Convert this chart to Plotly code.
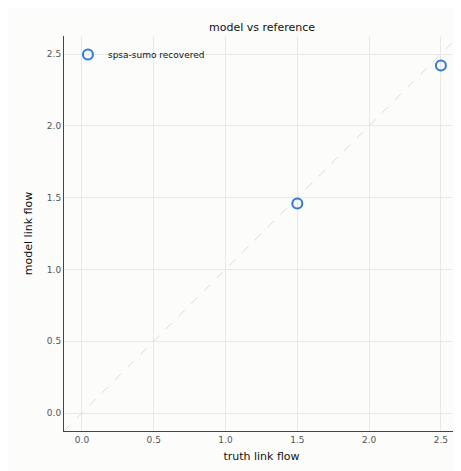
import plotly.graph_objects as go

truth = [1.5, 2.5]
model = [1.46, 2.42]
lo, hi = -0.125, 2.626

fig = go.Figure()
fig.add_trace(go.Scatter(x=[lo, hi], y=[lo, hi], mode="lines", showlegend=False,
                         line=dict(color="#dddddd", width=1, dash="dash"), hoverinfo="skip"))
fig.add_trace(go.Scatter(x=truth, y=model, mode="markers", name="spsa-sumo recovered",
                         marker=dict(size=10, color="rgba(0,0,0,0)",
                                     line=dict(color="#2f78d6", width=2))))
axis = dict(showgrid=True, gridcolor="#e8e8e8", zeroline=False, showline=True,
            linecolor="#444", linewidth=1, ticks="", tickfont=dict(size=9, color="#555"),
            range=[lo, hi], tickvals=[0, 0.5, 1, 1.5, 2, 2.5], automargin=False,
            ticktext=["0.0", "0.5", "1.0", "1.5", "2.0", "2.5"])
fig.update_layout(
    width=461, height=471, paper_bgcolor="#fcfcfa", plot_bgcolor="#fcfcfa",
    font=dict(family="DejaVu Sans", color="#111"),
    title=dict(text="model vs reference", x=0.551, xanchor="center", y=0.968, font=dict(size=11),
               automargin=False),
    margin=dict(l=56, r=10, t=28, b=48),
    xaxis=dict(axis, title=dict(text="truth link flow", font=dict(size=11), standoff=8)),
    yaxis=dict(axis, title=dict(text="model link flow", font=dict(size=11), standoff=12)),
    legend=dict(x=0.01, y=0.99, xanchor="left", yanchor="top", bgcolor="rgba(0,0,0,0)",
                font=dict(size=9)),
)
fig.write_html("out.html")
